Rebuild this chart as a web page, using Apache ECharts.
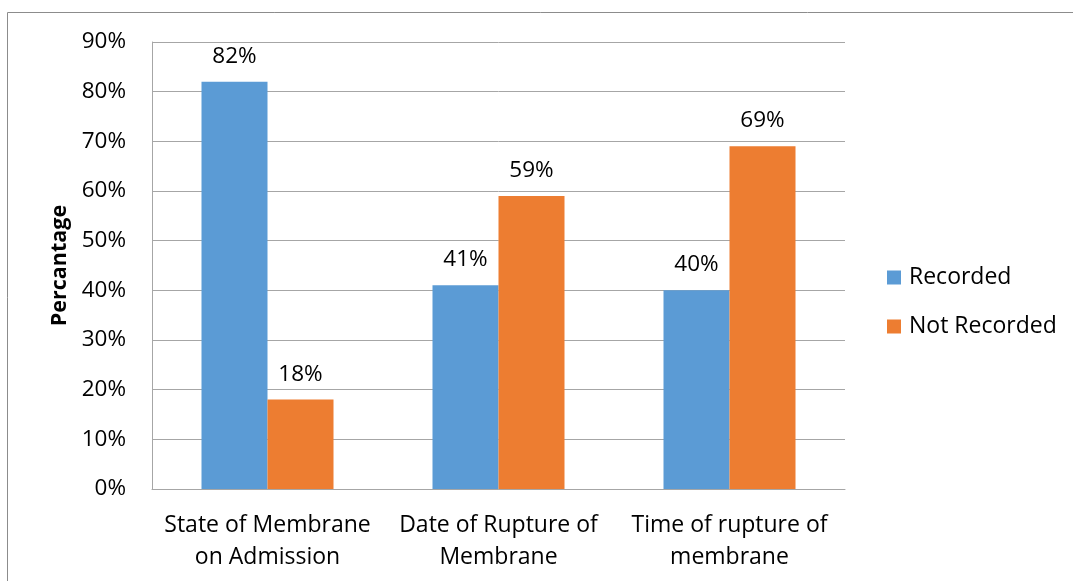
<!DOCTYPE html>
<html>
<head>
<meta charset="utf-8">
<script src="https://cdn.jsdelivr.net/npm/echarts@6/dist/echarts.min.js"></script>
<style>
  html, body { margin: 0; padding: 0; background: #fff; }
  #chart { width: 1073px; height: 581px; }
</style>
</head>
<body>
<div id="chart"></div>
<script>
// Documentation of membrane status in patient records
const categories = ['State of Membrane\non Admission', 'Date of Rupture of\nMembrane', 'Time of rupture of\nmembrane'];
const recorded = [82, 41, 40];
const notRecorded = [18, 59, 69];
const yTicks = [0, 10, 20, 30, 40, 50, 60, 70, 80, 90];

const FONT = 'Open Sans';
const chart = echarts.init(document.getElementById('chart'));

const valueLabel = {
  show: true, position: 'top', distance: 14, fontSize: 22.5, color: '#000',
  formatter: p => p.value + '%', fontFamily: FONT
};

chart.setOption({
  animation: false,
  textStyle: { fontFamily: FONT },
  graphic: [{
    type: 'rect',
    shape: { x: 7.5, y: 12.5, width: 1100, height: 600 },
    style: { fill: 'none', stroke: '#8c8c8c', lineWidth: 1 },
    silent: true
  }],
  grid: { left: 152, right: 228, top: 42, bottom: 92 },
  legend: {
    orient: 'vertical',
    left: 882,
    top: 261,
    itemWidth: 14,
    itemHeight: 14,
    itemGap: 26,
    icon: 'rect',
    textStyle: { fontSize: 23, color: '#000', fontFamily: FONT, padding: [0, 0, 0, 3] },
    data: ['Recorded', 'Not Recorded']
  },
  xAxis: {
    type: 'category',
    data: categories,
    axisLine: { lineStyle: { color: '#a6a6a6', width: 1 } },
    axisTick: { show: false },
    axisLabel: { interval: 0, fontSize: 23, color: '#000', lineHeight: 32, margin: 20, fontFamily: FONT }
  },
  yAxis: {
    type: 'value',
    min: yTicks[0],
    max: yTicks[yTicks.length - 1],
    interval: 10,
    name: 'Percantage',
    nameLocation: 'middle',
    nameGap: 80,
    nameTextStyle: { fontSize: 21.5, fontWeight: 'bold', color: '#000', fontFamily: FONT },
    axisLine: { show: true, lineStyle: { color: '#a6a6a6', width: 1 } },
    axisTick: { show: false },
    splitLine: { lineStyle: { color: '#a6a6a6', width: 1 } },
    axisLabel: { fontSize: 22.5, color: '#000', margin: 26, formatter: v => v + '%', fontFamily: FONT }
  },
  series: [
    {
      name: 'Recorded',
      type: 'bar',
      data: recorded,
      barWidth: 66,
      barGap: '0%',
      itemStyle: { color: '#5b9bd5' },
      label: valueLabel
    },
    {
      name: 'Not Recorded',
      type: 'bar',
      data: notRecorded,
      barWidth: 66,
      barGap: '0%',
      itemStyle: { color: '#ed7d31' },
      label: valueLabel
    }
  ]
});
</script>
</body>
</html>
